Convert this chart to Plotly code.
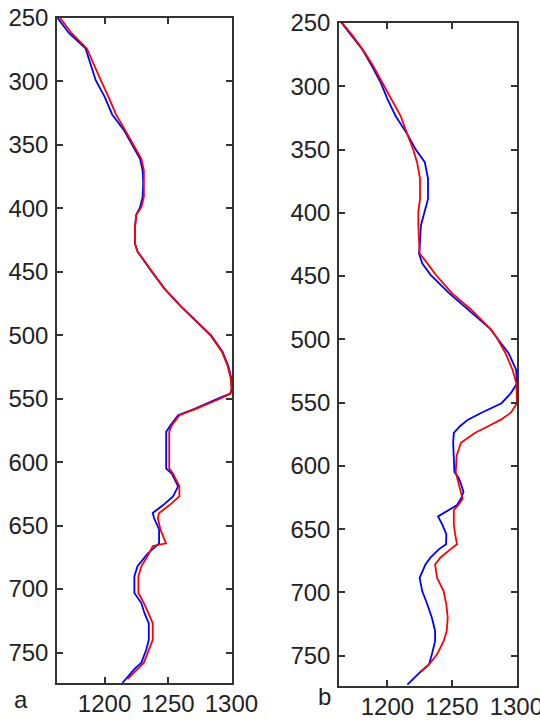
import plotly.graph_objects as go

# Panel a
a_blue_depth = [250,262,274,286,299,312,326,338,350,361,370,380,391,399,405,415,428,434,449,463,477,490,500,513,524,534,542,546,550,558,563,571,576,590,605,609,619,627,634,640,644,653,664,672,682,690,703,711,719,727,740,748,758,763,774]
a_blue_x = [1163,1172,1185,1189,1193,1200,1206,1215,1222,1228,1230,1230.5,1230,1228,1225,1224,1224,1226,1236.5,1247,1260,1273.5,1284,1293,1297.5,1300,1300.5,1299,1289,1271,1258,1252,1248.6,1248.6,1248.6,1253,1258,1254,1246,1238,1239,1243,1243,1234,1226,1223.5,1223.5,1229,1231.5,1234.9,1234.9,1232.8,1229,1223.5,1214]
a_red_depth = [250,262,274,286,299,312,326,338,350,361,370,380,391,399,405,415,428,434,449,463,477,490,500,513,524,534,542,546,550,558,563,571,576,590,605,609,619,627,634,640,644,653,664,666,672,682,690,703,711,719,727,740,748,758,763,771]
a_red_x = [1165,1174,1186,1191,1197,1203,1209,1216,1223,1229,1231,1231,1231,1229,1225,1224,1224,1226,1237,1247,1260,1273,1283.5,1292.5,1297,1299.5,1300,1299.5,1291,1272,1259,1253,1251,1251,1251,1254,1259,1259,1251,1243,1242,1244,1248.5,1238,1235,1229,1226.7,1226.7,1231,1234.6,1238,1238,1235,1231,1226,1218]

# Panel b
b_blue_depth = [249,260,271,284,297,310,323.5,338,350,360,373,389,399,410,428,432,440,449,463.5,476.6,492,499,511,524,535,542.6,550.5,558,563.5,568.5,574,582,592,605,609,614,620.7,626,631,635,640,646,654,662,666,672.6,678,688.5,699,709.6,720,730.5,738.6,749,757,762.5,773]
b_blue_x = [1163.8,1172,1180.6,1188,1194.8,1200,1206.4,1215.5,1222,1229,1231.5,1231.5,1229,1226,1225,1224.5,1227,1233.5,1247.8,1263,1280,1285,1294,1299.8,1300.5,1295.7,1288.5,1273,1262.5,1256.5,1251.5,1251,1251.4,1252,1255,1257,1259,1257,1254,1247.6,1239.3,1242.4,1245.7,1245.5,1239.8,1233.4,1229.5,1225,1227,1231,1234.5,1237,1237,1234.5,1232.3,1226,1215.5]
b_red_depth = [250,260,271,284,297,310,323.5,338,350,360,373,389,399,410,428,432,440,449,463.5,476.6,492,499,511,524,534.7,542.6,550.5,558,563.5,568.5,574,581.8,592,605,609,614,620.7,626,631,635,640,646,654,662,666,672.6,678,688.5,699,709.6,720,730.5,738.6,749,757,762.5]
b_red_x = [1165,1173,1181,1189,1196,1203,1210.3,1215.5,1220,1223,1225.3,1225.3,1224,1224,1224.5,1225,1231,1237.5,1250,1265,1280,1285,1291.6,1297,1300,1300.4,1300.5,1295.7,1288,1278.5,1267.8,1257,1253.7,1253,1254,1255,1256.6,1258.3,1255,1251.5,1251.5,1251.5,1252.5,1254,1248.8,1241,1237,1238.5,1243.6,1245.7,1246.8,1246,1243.6,1238.5,1232.3,1226]

x_ticks = [1200, 1250, 1300]
y_ticks = [250, 300, 350, 400, 450, 500, 550, 600, 650, 700, 750]
panel_labels = ["a", "b"]

fig = go.Figure()
lw = 1.8
fig.add_trace(go.Scatter(x=a_blue_x, y=a_blue_depth, mode="lines", line=dict(color="#0000ff", width=lw), xaxis="x", yaxis="y"))
fig.add_trace(go.Scatter(x=a_red_x, y=a_red_depth, mode="lines", line=dict(color="#ff0000", width=lw), xaxis="x", yaxis="y"))
fig.add_trace(go.Scatter(x=b_blue_x, y=b_blue_depth, mode="lines", line=dict(color="#0000ff", width=lw), xaxis="x2", yaxis="y2"))
fig.add_trace(go.Scatter(x=b_red_x, y=b_red_depth, mode="lines", line=dict(color="#ff0000", width=lw), xaxis="x2", yaxis="y2"))

font = dict(family="Liberation Sans, Arial, sans-serif", size=24, color="#222")
common_x = dict(range=[1162.5, 1300.5], tickvals=x_ticks, ticks="inside", ticklen=6, tickwidth=1.5,
                tickcolor="#333", showline=True, linewidth=1.5, linecolor="#333", mirror="ticks",
                showgrid=False, zeroline=False, tickfont=font, automargin=False,
                ticklabeloverflow="allow", ticklabelstandoff=-2)
common_y = dict(range=[774, 250], tickvals=y_ticks, ticks="inside", ticklen=6, tickwidth=1.5,
                tickcolor="#333", showline=True, linewidth=1.5, linecolor="#333", mirror="ticks",
                showgrid=False, zeroline=False, tickfont=font, automargin=False,
                ticklabeloverflow="allow", ticklabelstandoff=2)

W, H = 540, 720
fig.update_layout(
    width=W, height=H, margin=dict(l=0, r=0, t=0, b=0),
    paper_bgcolor="white", plot_bgcolor="white", showlegend=False,
    xaxis=dict(common_x, domain=[57/W, 232/W], anchor="y"),
    yaxis=dict(common_y, domain=[1-683/H, 1-18/H], anchor="x"),
    xaxis2=dict(common_x, domain=[339/W, 517/W], anchor="y2"),
    yaxis2=dict(common_y, domain=[1-686/H, 1-23/H], anchor="x2"),
    annotations=[
        dict(text=panel_labels[0], x=21/W, y=1-699/H, xref="paper", yref="paper", showarrow=False,
             font=font, xanchor="center", yanchor="middle"),
        dict(text=panel_labels[1], x=324/W, y=1-696/H, xref="paper", yref="paper", showarrow=False,
             font=font, xanchor="center", yanchor="middle"),
    ],
)
fig.write_html("out.html", config={"displayModeBar": False},
               post_script="document.body.style.margin='0';document.body.style.overflow='hidden';")
